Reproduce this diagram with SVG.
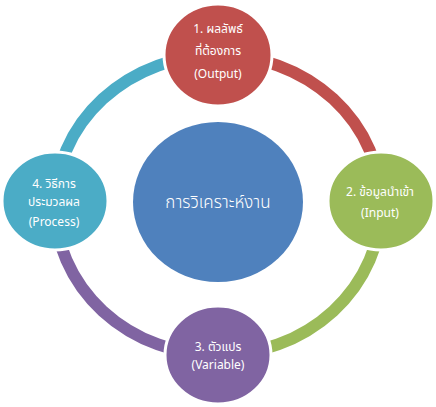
<svg xmlns="http://www.w3.org/2000/svg" width="436" height="407" viewBox="0 0 436 407">
<style>
.arc{fill:none;stroke-width:12}
.node{stroke:#fff;stroke-width:3}
.t{fill:#fff;font-family:"Noto Sans Thai","Noto Sans","DejaVu Sans",sans-serif;font-size:12px;text-anchor:middle}
.c{font-size:17px;font-weight:300}
</style>
<rect width="436" height="407" fill="#fff"/>
<g id="connectors">
<path class="arc" stroke="#C0504D" d="M218,55 A163,150 0 0 1 381,205"/>
<path class="arc" stroke="#9BBB59" d="M381,205 A163,150 0 0 1 218,355"/>
<path class="arc" stroke="#8064A2" d="M218,355 A163,150 0 0 1 55,205"/>
<path class="arc" stroke="#4BACC6" d="M55,205 A163,150 0 0 1 218,55"/>
</g>
<g id="center">
<ellipse cx="218" cy="202" rx="85" ry="80" fill="#4F81BD"/>
<text class="t c" x="218" y="208">การวิเคราะห์งาน</text>
</g>
<g id="node1">
<ellipse class="node" cx="218" cy="55" rx="54" ry="51" fill="#C0504D"/>
<text class="t" x="218" y="33">1. ผลลัพธ์</text>
<text class="t" x="218" y="55">ที่ต้องการ</text>
<text class="t" x="218" y="78">(Output)</text>
</g>
<g id="node2">
<ellipse class="node" cx="381" cy="201" rx="53" ry="49" fill="#9BBB59"/>
<text class="t" x="380" y="196">2. ข้อมูลนำเข้า</text>
<text class="t" x="380" y="217">(Input)</text>
</g>
<g id="node3">
<ellipse class="node" cx="218" cy="355" rx="53" ry="49" fill="#8064A2"/>
<text class="t" x="218" y="351">3. ตัวแปร</text>
<text class="t" x="218" y="369">(Variable)</text>
</g>
<g id="node4">
<ellipse class="node" cx="55" cy="201" rx="53" ry="49" fill="#4BACC6"/>
<text class="t" x="54" y="188">4. วิธีการ</text>
<text class="t" x="54" y="206">ประมวลผล</text>
<text class="t" x="54" y="226">(Process)</text>
</g>
</svg>
